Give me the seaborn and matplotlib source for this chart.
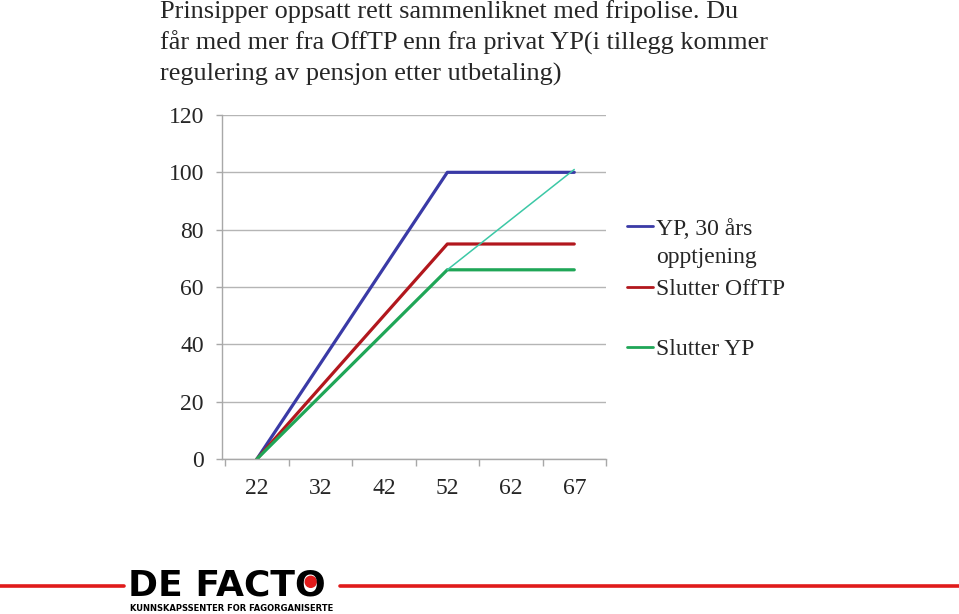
import matplotlib
matplotlib.use("Agg")
import matplotlib.pyplot as plt
import matplotlib.transforms as mtransforms
import seaborn as sns
import pandas as pd
from matplotlib.patches import Circle

ages = ["22", "32", "42", "52", "62", "67"]
yp_30 = [0, 33.3, 66.7, 100, 100, 100]
slutter_offtp = [0, 25, 50, 75, 75, 75]
slutter_yp = [0, 22, 44, 66, 66, 66]
regulering_ages = ["52", "67"]
regulering = [66, 101]

series_names = ["YP, 30 års", "Slutter OffTP", "Slutter YP"]
label_continuation = "opptjening"
colors = ["#3a3aa6", "#b2171d", "#1fa657"]
teal = "#3cc8a6"

title_lines = [
    "Prinsipper oppsatt rett sammenliknet med fripolise. Du",
    "får med mer fra OffTP enn fra privat YP(i tillegg kommer",
    "regulering av pensjon etter utbetaling)",
]

sns.set_theme(style="white")
plt.rcParams["font.family"] = ["Liberation Serif", "DejaVu Serif"]

W, H = 959, 614
fig = plt.figure(figsize=(W / 100, H / 100), dpi=100)
ax = fig.add_axes([222 / W, 1 - 459 / H, (606 - 222) / W, (459 - 115) / H])

df = pd.DataFrame({
    "age": ages * 3,
    "value": yp_30 + slutter_offtp + slutter_yp,
    "series": [series_names[0]] * 6 + [series_names[1]] * 6 + [series_names[2]] * 6,
})
sns.lineplot(data=df, x="age", y="value", hue="series", hue_order=series_names,
             palette=colors, linewidth=2.3, ax=ax, sort=False)
sns.lineplot(x=regulering_ages, y=regulering, color=teal, linewidth=1.1, ax=ax,
             legend=False)

ax.set_xlim(-0.55, 5.5)
ax.set_ylim(0, 120)
ax.set_yticks(range(0, 121, 20))
ax.set_xlabel("")
ax.set_ylabel("")
ax.grid(axis="y", color="#b5b5b5", linewidth=1.0)
ax.set_axisbelow(True)
for s in ["top", "right"]:
    ax.spines[s].set_visible(False)
for s in ["left", "bottom"]:
    ax.spines[s].set_color("#a8a8a8")
    ax.spines[s].set_linewidth(1.0)
ax.tick_params(axis="y", length=4.5, color="#a8a8a8", width=1, labelsize=17,
               pad=8.5, left=True)
ax.tick_params(axis="x", length=0, labelsize=17, pad=13.6)
ax.set_xticks([i - 0.5 for i in range(7)], minor=True)
ax.tick_params(axis="x", which="minor", length=5, color="#a8a8a8", width=1,
               bottom=True)

leg = ax.legend(loc="center left", bbox_to_anchor=((627 - 222) / 384, (459 - 289) / 344),
                frameon=False, fontsize=17, handlelength=1.08, handletextpad=0.15,
                labelspacing=1.63, borderaxespad=0, borderpad=0)
for line in leg.get_lines():
    line.set_linewidth(2.0)
texts = leg.get_texts()
ax.annotate(label_continuation, xy=(0, 0), xycoords=texts[0],
            xytext=(0, -28), textcoords="offset pixels",
            ha="left", va="bottom", fontsize=17)

for i, line in enumerate(title_lines):
    fig.text(160 / W, 1 - (18 + 31.5 * i) / H, line, ha="left", va="baseline",
             fontsize=18.9)

# footer
red = "#e01b1b"
y_line = 1 - 586 / H
fig.add_artist(plt.Line2D([0, 124 / W], [y_line] * 2, color=red, lw=2.6,
                          transform=fig.transFigure))
fig.add_artist(plt.Line2D([340 / W, 1], [y_line] * 2, color=red, lw=2.6,
                          transform=fig.transFigure))
logo_size = 26
logo_base = 595
logo = fig.text(128 / W, 1 - logo_base / H, "DE FACTO", ha="left", va="baseline",
                fontsize=logo_size, fontweight="bold", family="DejaVu Sans",
                color="black")
fig.canvas.draw()
bb = logo.get_window_extent()
cap_center_y = H - logo_base + 0.365 * logo_size / 72 * 100
fig.add_artist(Circle((bb.x1 - 15, cap_center_y), 5.5, color=red,
                      transform=mtransforms.IdentityTransform()))
fig.text(232 / W, 1 - 608.5 / H, "KUNNSKAPSSENTER FOR FAGORGANISERTE",
         ha="center", va="center", fontsize=6.0, fontweight="bold",
         family="DejaVu Sans", color="black")

fig.savefig("out.png", dpi=100)
